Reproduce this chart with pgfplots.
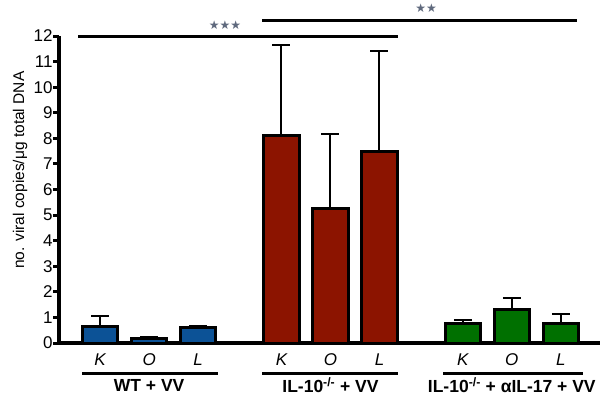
\documentclass[border=0pt]{standalone}
\usepackage{fontspec}
\setmainfont{Liberation Sans}
\newfontfamily\dejavu{DejaVu Sans}
\usepackage{pgfplots}
\pgfplotsset{compat=1.18}
\definecolor{cblue}{RGB}{12,82,150}
\definecolor{cred}{RGB}{140,20,0}
\definecolor{cgreen}{RGB}{0,112,0}
\definecolor{cstar}{RGB}{95,105,125}
\begin{document}
\begin{tikzpicture}
\begin{axis}[
  at={(0,0)}, anchor=south west,
  scale only axis, width=541pt, height=307pt,
  xmin=-0.84, xmax=10.2, ymin=0, ymax=12,
  axis lines=left,
  axis line style={-, line width=3.5pt},
  clip=false,
  /pgf/number format/assume math mode=true,
  ytick={0,1,...,12},
  yticklabel style={font=\fontsize{17}{17}\selectfont, xshift=3pt},
  xtick={0,1,2,3.7,4.7,5.7,7.4,8.4,9.4},
  xticklabels={K,O,L,K,O,L,K,O,L},
  xticklabel style={font=\itshape\fontsize{17}{17}\selectfont, yshift=-1pt},
  x tick style={draw=none},
  y tick style={line width=3pt, black},
  tick align=outside,
  major tick length=6pt,
  ylabel={no. viral copies/μg total DNA},
  ylabel style={font=\fontsize{15.5}{15.5}\selectfont, at={(axis description cs:-0.072,0.563)}, anchor=center},
  ybar, bar width=0.72, bar shift=0pt,
  error bars/y dir=plus, error bars/y explicit,
  error bars/error bar style={line width=2pt, black},
  error bars/error mark options={line width=2pt, black, mark size=9pt, rotate=90},
]
\addplot[fill=cblue, draw=black, line width=3pt] coordinates {
  (0,0.66) +- (0,0.38)
  (1,0.17) +- (0,0.07)
  (2,0.60) +- (0,0.05)
};
\addplot[fill=cred, draw=black, line width=3pt] coordinates {
  (3.7,8.12) +- (0,3.53)
  (4.7,5.25) +- (0,2.92)
  (5.7,7.48) +- (0,3.95)
};
\addplot[fill=cgreen, draw=black, line width=3pt] coordinates {
  (7.4,0.78) +- (0,0.13)
  (8.4,1.30) +- (0,0.46)
  (9.4,0.78) +- (0,0.36)
};
% significance lines
\draw[line width=3pt] (axis cs:-0.45,11.98) -- (axis cs:6.08,11.98);
\node[font=\dejavu\fontsize{12}{12}\selectfont, text=cstar, inner sep=0pt] at (axis cs:2.55,12.43) {★★★};
\draw[line width=3pt] (axis cs:3.31,12.59) -- (axis cs:9.73,12.59);
\node[font=\dejavu\fontsize{12}{12}\selectfont, text=cstar, inner sep=0pt] at (axis cs:6.65,13.09) {★★};
% group underlines
\draw[line width=3pt] (axis cs:-0.37,-1.18) -- (axis cs:2.41,-1.18);
\draw[line width=3pt] (axis cs:3.31,-1.18) -- (axis cs:6.08,-1.18);
\draw[line width=3pt] (axis cs:7.0,-1.18) -- (axis cs:9.86,-1.18);
\node[font=\bfseries\fontsize{17.5}{17.5}\selectfont, inner sep=0pt] at (axis cs:1.0,-1.65) {WT + VV};
\node[font=\bfseries\fontsize{17.5}{17.5}\selectfont, inner sep=0pt] at (axis cs:4.7,-1.65) {IL-10\textsuperscript{-/-} + VV};
\node[font=\bfseries\fontsize{17.5}{17.5}\selectfont, inner sep=0pt] at (axis cs:8.4,-1.65) {IL-10\textsuperscript{-/-} + αIL-17 + VV};
\end{axis}
\pgfresetboundingbox
\useasboundingbox (-59pt,-59pt) rectangle (551pt,343pt);
\end{tikzpicture}
\end{document}
